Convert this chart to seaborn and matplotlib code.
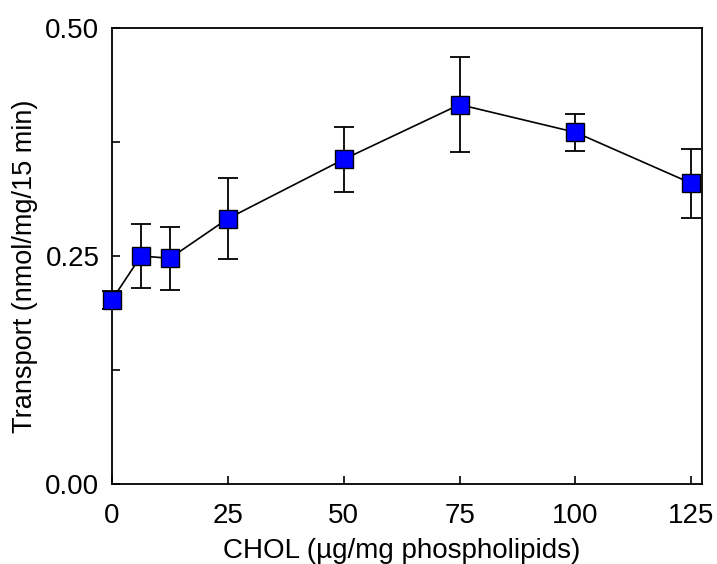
import matplotlib
matplotlib.use("Agg")
import matplotlib.pyplot as plt
import seaborn as sns
import pandas as pd
from matplotlib.ticker import MultipleLocator

chol = [0, 6.25, 12.5, 25, 50, 75, 100, 125]
transport = [0.202, 0.250, 0.2475, 0.291, 0.356, 0.416, 0.3856, 0.3297]
err = [0.010, 0.0356, 0.0347, 0.0444, 0.0355, 0.0525, 0.020, 0.0377]

df = pd.DataFrame({"chol": chol, "transport": transport, "err": err})

sns.set_theme(style="ticks")
plt.rcParams['font.family'] = ['Liberation Sans', 'DejaVu Sans']
plt.rcParams['text.color'] = 'black'
plt.rcParams['axes.labelcolor'] = 'black'

fig = plt.figure(figsize=(7.17, 5.64), dpi=100)
ax = fig.add_axes([0.1562, 0.1418, 0.9784 - 0.1562, 0.9504 - 0.1418])

eb = ax.errorbar(df["chol"], df["transport"], yerr=df["err"], fmt="none",
                 ecolor="black", elinewidth=1.3, capsize=7.5, capthick=1.3, zorder=2)
for art in eb.lines[1] + eb.lines[2]:
    art.set_clip_on(False)
sns.lineplot(data=df, x="chol", y="transport", ax=ax, color="black",
             linewidth=1.2, marker="s", markersize=12.5, markerfacecolor="#0000ff",
             markeredgecolor="black", markeredgewidth=1.0, zorder=3, clip_on=False)

ax.set_xlim(0, 127.2)
ax.set_ylim(0, 0.5)
ax.set_xticks([0, 25, 50, 75, 100, 125])
ax.set_yticks([0, 0.25, 0.5])
ax.set_yticklabels(["0.00", "0.25", "0.50"])
ax.yaxis.set_minor_locator(MultipleLocator(0.125))

for s in ax.spines.values():
    s.set_linewidth(1.3)
    s.set_color("black")
    s.set_visible(True)

ax.tick_params(axis="both", which="both", direction="in", length=6, width=1.2,
               labelsize=20, colors="black", labelcolor="black", pad=9)
ax.tick_params(axis="x", which="major", pad=14)

ax.set_xlabel("CHOL (µg/mg phospholipids)", fontsize=20, color="black")
ax.set_ylabel("Transport (nmol/mg/15 min)", fontsize=19.5, color="black")
ax.xaxis.set_label_coords(0.492, -0.118)
ax.yaxis.set_label_coords(-0.125, 0.478)

fig.savefig("out.png", dpi=100)
